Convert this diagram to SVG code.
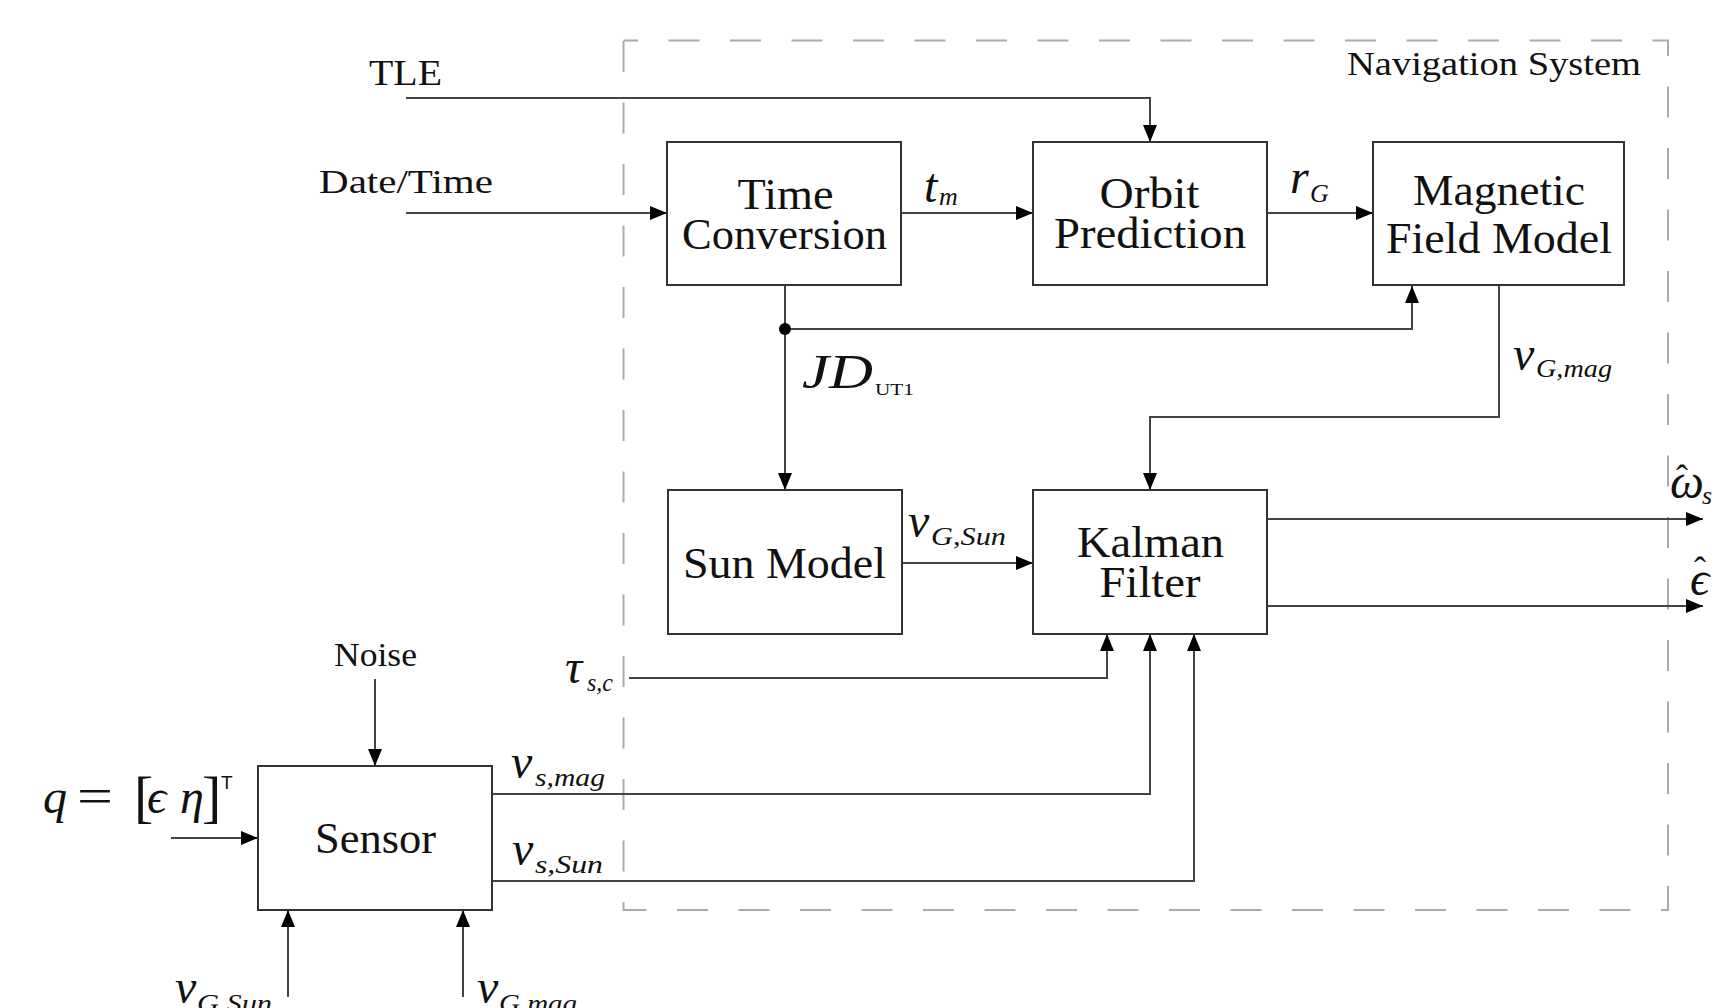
<svg xmlns="http://www.w3.org/2000/svg" width="1715" height="1008" viewBox="0 0 1715 1008">
<defs>
<marker id="arr" markerUnits="userSpaceOnUse" markerWidth="18" markerHeight="15" refX="17" refY="7" orient="auto">
<path d="M0,0 L17,7 L0,14 z" fill="#000"/>
</marker>
</defs>
<style>
.box{fill:#fff;stroke:#333;stroke-width:2}
.t{font-family:"Liberation Serif","DejaVu Serif",serif;fill:#111}
.nl{font-size:44px}
.sm{font-size:34px}
.m{font-style:italic;font-size:48px}
.s{font-style:italic;font-size:26px}
.c{fill:none;stroke:#444;stroke-width:2}
.ca{fill:none;stroke:#444;stroke-width:2;marker-end:url(#arr)}
</style>
<rect width="1715" height="1008" fill="#fff"/>

<g id="navigation-system">
<rect x="623.5" y="40.5" width="1044.5" height="869.5" fill="none" stroke="#aaa" stroke-width="2" stroke-dasharray="31 30.5" stroke-dashoffset="-45"/>
<text class="t sm" x="1347" y="75" textLength="294" lengthAdjust="spacingAndGlyphs">Navigation System</text>
</g>

<g id="connectors">
<path class="ca" d="M406,98 H1150 V142"/>
<path class="ca" d="M406,213 H667"/>
<path class="ca" d="M901,213 H1033"/>
<path class="ca" d="M1267,213 H1373"/>
<path class="ca" d="M785,285 V490"/>
<path class="ca" d="M785,329 H1412 V286"/>
<path class="ca" d="M1499,285 V417 H1150 V490"/>
<path class="ca" d="M902,563 H1033"/>
<path class="ca" d="M1267,519 H1703"/>
<path class="ca" d="M1267,606 H1703"/>
<path class="ca" d="M629,678 H1107 V634"/>
<path class="ca" d="M492,794 H1150 V634"/>
<path class="ca" d="M492,881 H1194 V634"/>
<path class="ca" d="M375,679 V766"/>
<path class="ca" d="M171,838 H258"/>
<path class="ca" d="M288,997 V910"/>
<path class="ca" d="M463,997 V910"/>
<circle cx="785" cy="329" r="6" fill="#000"/>
</g>

<g id="time-conversion">
<rect class="box" x="667" y="142" width="234" height="143"/>
<text class="t nl" x="737.5" y="209" textLength="96" lengthAdjust="spacingAndGlyphs">Time</text>
<text class="t nl" x="682" y="249" textLength="205" lengthAdjust="spacingAndGlyphs">Conversion</text>
</g>
<g id="orbit-prediction">
<rect class="box" x="1033" y="142" width="234" height="143"/>
<text class="t nl" x="1099.5" y="208" textLength="100" lengthAdjust="spacingAndGlyphs">Orbit</text>
<text class="t nl" x="1054" y="248" textLength="192" lengthAdjust="spacingAndGlyphs">Prediction</text>
</g>
<g id="magnetic-field-model">
<rect class="box" x="1373" y="142" width="251" height="143"/>
<text class="t nl" x="1413" y="205" textLength="172" lengthAdjust="spacingAndGlyphs">Magnetic</text>
<text class="t nl" x="1386" y="253" textLength="226" lengthAdjust="spacingAndGlyphs">Field Model</text>
</g>
<g id="sun-model">
<rect class="box" x="668" y="490" width="234" height="144"/>
<text class="t nl" x="683" y="578" textLength="203" lengthAdjust="spacingAndGlyphs">Sun Model</text>
</g>
<g id="kalman-filter">
<rect class="box" x="1033" y="490" width="234" height="144"/>
<text class="t nl" x="1077" y="557" textLength="147" lengthAdjust="spacingAndGlyphs">Kalman</text>
<text class="t nl" x="1099.5" y="597" textLength="101" lengthAdjust="spacingAndGlyphs">Filter</text>
</g>
<g id="sensor">
<rect class="box" x="258" y="766" width="234" height="144"/>
<text class="t nl" x="315" y="853" textLength="121" lengthAdjust="spacingAndGlyphs">Sensor</text>
</g>

<g id="labels">
<text class="t" x="369" y="85" font-size="36" textLength="73" lengthAdjust="spacingAndGlyphs">TLE</text>
<text class="t sm" x="319" y="193" textLength="174" lengthAdjust="spacingAndGlyphs">Date/Time</text>
<text class="t sm" x="334" y="666" textLength="83" lengthAdjust="spacingAndGlyphs">Noise</text>

<text class="t m" x="924" y="202">t</text><text class="t s" x="939" y="205">m</text>
<text class="t m" x="1290" y="193">r</text><text class="t s" x="1310" y="202">G</text>
<text class="t m" x="1513" y="370">v</text><text class="t s" x="1536" y="377" textLength="76" lengthAdjust="spacingAndGlyphs">G,mag</text>
<text class="t m" x="802" y="388" font-size="54" textLength="71" lengthAdjust="spacingAndGlyphs">JD</text><text class="t" x="875" y="395" font-size="17" textLength="39" lengthAdjust="spacingAndGlyphs">UT1</text>
<text class="t m" x="908" y="537">v</text><text class="t s" x="931" y="545" textLength="75" lengthAdjust="spacingAndGlyphs">G,Sun</text>
<text class="t m" x="565" y="683" font-size="52">τ</text><text class="t s" x="587" y="691" textLength="26" lengthAdjust="spacingAndGlyphs">s,c</text>
<text class="t m" x="511" y="778">v</text><text class="t s" x="535" y="786" textLength="70" lengthAdjust="spacingAndGlyphs">s,mag</text>
<text class="t m" x="512" y="865">v</text><text class="t s" x="535" y="873" textLength="68" lengthAdjust="spacingAndGlyphs">s,Sun</text>
<text class="t m" x="175" y="1003">v</text><text class="t s" x="197" y="1012" textLength="75" lengthAdjust="spacingAndGlyphs">G,Sun</text>
<text class="t m" x="477" y="1003">v</text><text class="t s" x="499" y="1012" textLength="78" lengthAdjust="spacingAndGlyphs">G,mag</text>
<text class="t m" x="1670" y="498">ω</text><text class="t" x="1682" y="490" font-size="36" text-anchor="middle">ˆ</text><text class="t s" x="1702" y="504">s</text>
<text class="t m" x="1690" y="595">ϵ</text><text class="t" x="1700" y="582" font-size="36" text-anchor="middle">ˆ</text>

<text class="t m" x="43" y="813" font-size="50">q</text>
<text class="t" x="77" y="813" font-size="50" textLength="36" lengthAdjust="spacingAndGlyphs">=</text>
<text class="t" x="134" y="816" font-size="58">[</text>
<text class="t m" x="147" y="813" font-size="50">ϵ</text>
<text class="t m" x="180" y="813" font-size="50">η</text>
<text class="t" x="202" y="816" font-size="58">]</text>
<text x="221" y="789" font-family="Liberation Sans, sans-serif" font-size="19" fill="#111">T</text>
</g>
</svg>
